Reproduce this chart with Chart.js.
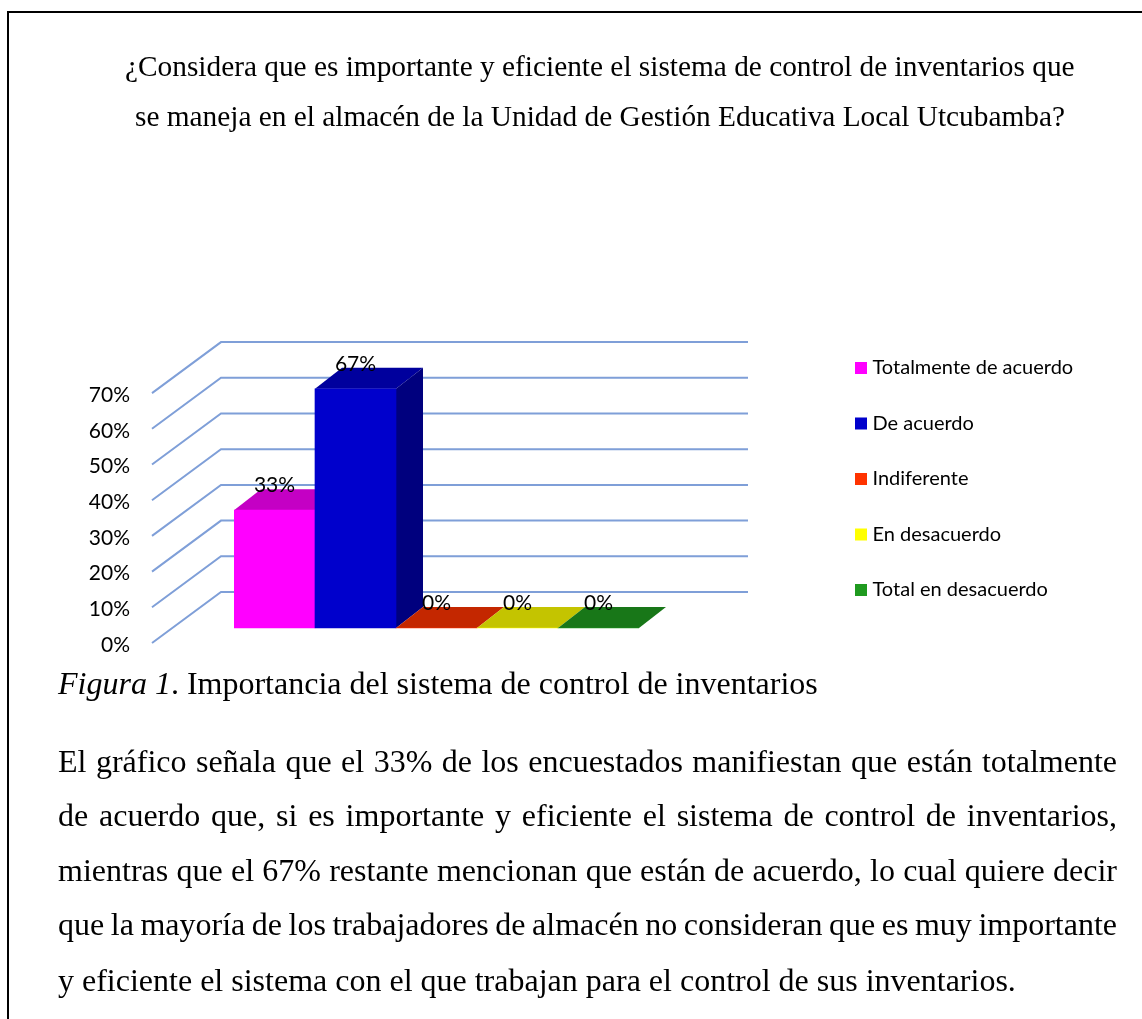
<!DOCTYPE html>
<html lang="es"><head><meta charset="utf-8">
<script src="https://cdn.jsdelivr.net/npm/chart.js@4"></script>
<style>
html,body{margin:0;padding:0;background:#fff;overflow:hidden}
#page{position:relative;width:1142px;height:1019px;font-family:"Liberation Serif",serif;color:#000}
canvas{position:absolute;left:0;top:0;filter:blur(0.5px)}
.rule{position:absolute;background:#000}
.line{position:absolute;white-space:nowrap;line-height:1}
.title{font-size:29.33px}
.body{left:58px;font-size:32px}
.just{width:1059px;white-space:normal;text-align:justify;text-align-last:justify}
</style></head><body>
<div id="page">
<canvas id="c" width="1142" height="1019"></canvas>
<div class="rule" style="left:7px;top:11px;width:1135px;height:2px"></div>
<div class="rule" style="left:7px;top:11px;width:2px;height:1008px"></div>
<div class="line title" style="left:125px;top:52px">¿Considera que es importante y eficiente el sistema de control de inventarios que</div>
<div class="line title" style="left:135px;top:102px">se maneja en el almacén de la Unidad de Gestión Educativa Local Utcubamba?</div>
<div class="line body" style="top:667px"><i>Figura 1</i>. Importancia del sistema de control de inventarios</div>
<div class="line body just" style="top:745px">El gráfico señala que el 33% de los encuestados manifiestan que están totalmente</div>
<div class="line body just" style="top:799px">de acuerdo que, si es importante y eficiente el sistema de control de inventarios,</div>
<div class="line body just" style="top:854px">mientras que el 67% restante mencionan que están de acuerdo, lo cual quiere decir</div>
<div class="line body just" style="top:908px;word-spacing:-3px">que la mayoría de los trabajadores de almacén no consideran que es muy importante</div>
<div class="line body" style="top:964px">y eficiente el sistema con el que trabajan para el control de sus inventarios.</div>
</div>
<script>
const categories = ["Totalmente de acuerdo","De acuerdo","Indiferente","En desacuerdo","Total en desacuerdo"];
const values = [33,67,0,0,0];
const colors = ["#ff00ff","#0000cc","#ff3300","#ffff00","#1f9a1f"];
const tickValues = [0,10,20,30,40,50,60,70];
const chartFont = "Lato";

function shade(hex,f){
  const n=parseInt(hex.slice(1),16);
  return `rgb(${Math.round((n>>16&255)*f)},${Math.round((n>>8&255)*f)},${Math.round((n&255)*f)})`;
}
const DX=27, DY=-21, WALL_X=69, WALL_Y=-51, GRID_RIGHT=748, LABEL_DROP=2;

const scene={
  id:'scene',
  afterLayout(chart){
    const l=chart.legend, p=l.options.labels.padding;
    const w=l.width,h=l.height;
    l.left=859.5-p; l.right=l.left+w; l.top=368-10-p; l.bottom=l.top+h;
  },
  beforeDatasetsDraw(chart){
    const {ctx,scales:{y}}=chart;
    ctx.save();
    ctx.strokeStyle='#7f9fd8'; ctx.lineWidth=2; ctx.lineJoin='miter';
    tickValues.forEach(v=>{
      const py=y.getPixelForValue(v)-LABEL_DROP, x0=chart.chartArea.left-82;
      ctx.beginPath();
      ctx.moveTo(x0,py);
      ctx.lineTo(x0+WALL_X,py+WALL_Y);
      ctx.lineTo(GRID_RIGHT,py+WALL_Y);
      ctx.stroke();
    });
    chart.getDatasetMeta(0).data.forEach((b,i)=>{
      const l=b.x-b.width/2,r=b.x+b.width/2,t=b.y,base=b.base;
      ctx.fillStyle=shade(colors[i],0.77);
      ctx.beginPath();ctx.moveTo(l,t);ctx.lineTo(r,t);ctx.lineTo(r+DX,t+DY);ctx.lineTo(l+DX,t+DY);ctx.closePath();ctx.fill();
      if(base-t>0.5){
        ctx.fillStyle=shade(colors[i],0.62);
        ctx.beginPath();ctx.moveTo(r,t);ctx.lineTo(r+DX,t+DY);ctx.lineTo(r+DX,base+DY);ctx.lineTo(r,base);ctx.closePath();ctx.fill();
      }
    });
    ctx.restore();
  },
  afterDatasetsDraw(chart){
    const {ctx}=chart;
    ctx.save();
    ctx.fillStyle='#000';ctx.font=`21px ${chartFont}`;ctx.textAlign='center';ctx.textBaseline='middle';
    chart.getDatasetMeta(0).data.forEach((b,i)=>ctx.fillText(values[i]+'%',b.x,b.y-25));
    ctx.restore();
  }
};

new Chart(document.getElementById('c'),{
  type:'bar',
  data:{labels:categories,datasets:[{data:values,backgroundColor:colors,borderWidth:0,barPercentage:1,categoryPercentage:1,yAxisID:'yBar'}]},
  options:{
    responsive:false,animation:false,
    layout:{padding:{left:0,top:288,right:503,bottom:374}},
    scales:{
      x:{display:false,grid:{display:false}},
      y:{position:'left',min:0,max:100,
        grid:{display:false,drawTicks:false},border:{display:false},
        afterBuildTicks(s){s.ticks=tickValues.map(v=>({value:v}));},
        afterFit(s){s.width=234;},
        ticks:{padding:104,autoSkip:false,color:'#000',font:{family:chartFont,size:21},callback:v=>v+'%'}},
      yBar:{display:false,position:'left',min:-4.76,max:95.24}
    },
    plugins:{
      tooltip:{enabled:false},
      legend:{position:'chartArea',align:'start',
        labels:{boxWidth:3,boxHeight:3,padding:35.5,color:'#000',font:{family:chartFont,size:20},
          generateLabels:()=>categories.map((t,i)=>({text:t,fillStyle:colors[i],strokeStyle:colors[i],lineWidth:9,lineJoin:'miter',lineCap:'butt',index:i,datasetIndex:0}))}}
    }
  },
  plugins:[scene]
});
</script>
</body></html>
